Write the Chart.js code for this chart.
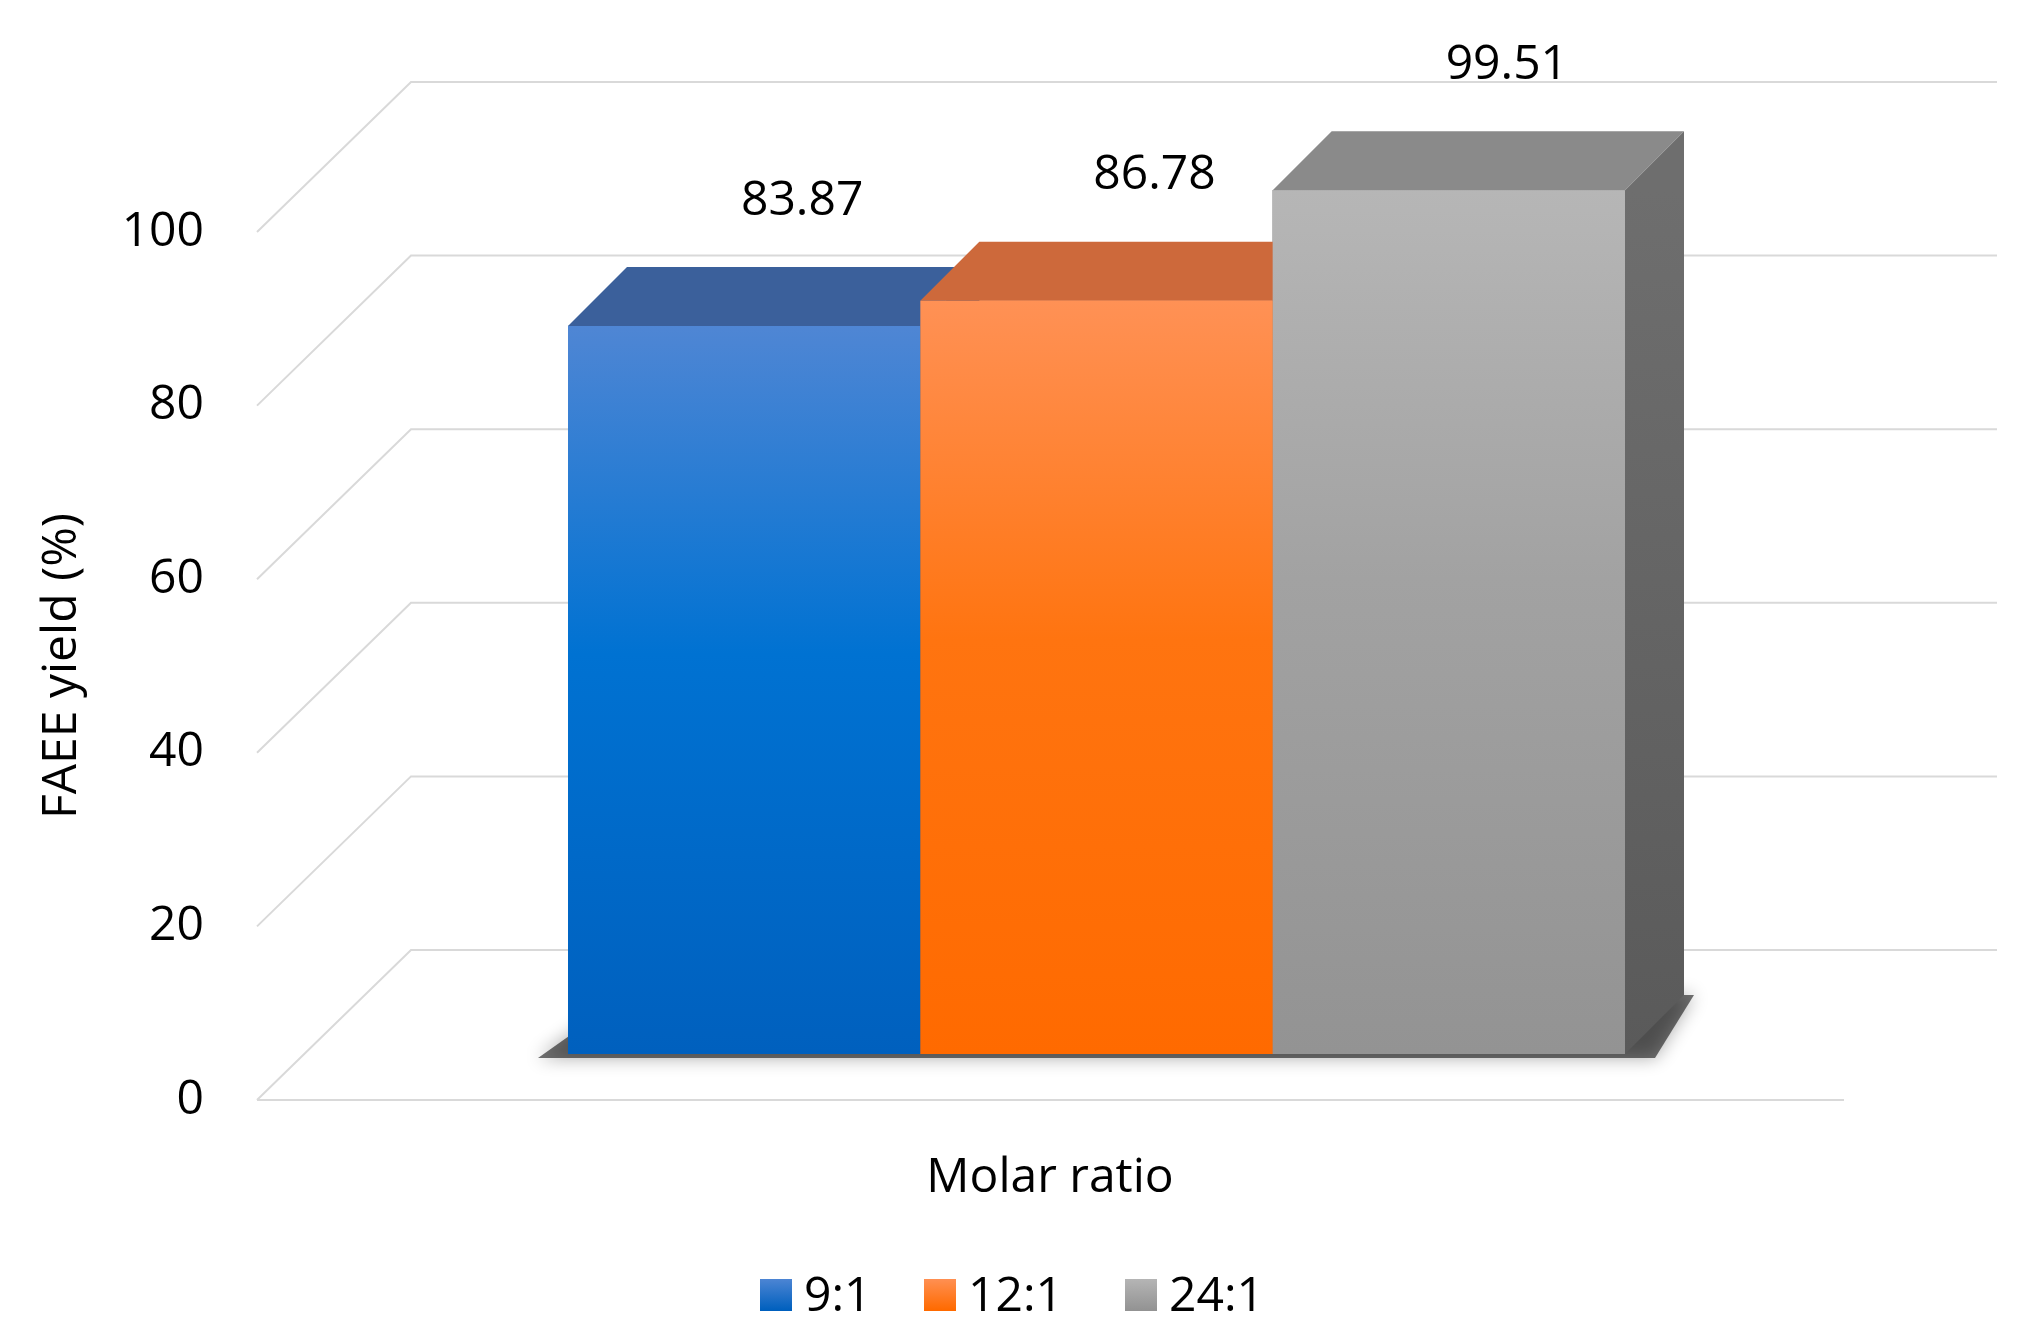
<!DOCTYPE html>
<html><head><meta charset="utf-8">
<script src="https://cdn.jsdelivr.net/npm/chart.js@4"></script>
<style>html,body{margin:0;background:#fff}#c{display:block}</style>
</head><body>
<div style="width:2036px;height:1342px"><canvas id="c"></canvas></div>
<script>
const categories = ['Molar ratio'];
const seriesNames = ['9:1', '12:1', '24:1'];
const seriesValues = [83.87, 86.78, 99.51];
const yTicks = [0, 20, 40, 60, 80, 100];

const FONT = '"Open Sans", "Noto Sans", sans-serif';
const front = [['#4f86d4', '#0072d2', '#0060be'], ['#ff9155', '#ff7410', '#ff6a00'], ['#b6b6b6', '#a2a2a2', '#939393']];
const topCol = ['#3b609b', '#cd693b', '#8a8a8a'];
const sideCol = ['#2c4c80', '#a8521f', '#646464'];
const D = 59;           // depth of bars
const FO = 46;          // front plane offset
const BO = 104;         // back wall offset

function grad(ctx, el, i) {
  const g = ctx.createLinearGradient(0, el.y, 0, el.base);
  g.addColorStop(0, front[i][0]);
  g.addColorStop(0.45, front[i][1]);
  g.addColorStop(1, front[i][2]);
  return g;
}

const threeD = {
  id: 'threeD',
  beforeDatasetsDraw(chart) {
    const ctx = chart.ctx, y = chart.scales.y;
    ctx.save();
    ctx.strokeStyle = '#d9d9d9';
    ctx.lineWidth = 2;
    yTicks.forEach(v => {
      const p = y.getPixelForValue(v);
      ctx.beginPath();
      ctx.moveTo(257, p + FO); ctx.lineTo(411, p - BO); ctx.lineTo(1997, p - BO);
      ctx.stroke();
    });
    const p0 = y.getPixelForValue(0);
    ctx.beginPath(); ctx.moveTo(257, p0 + FO); ctx.lineTo(1844, p0 + FO); ctx.stroke();
    // floor shadow
    const first = chart.getDatasetMeta(0).data[0], last = chart.getDatasetMeta(2).data[0];
    ctx.fillStyle = 'rgba(0,0,0,0.55)';
    ctx.shadowColor = 'rgba(0,0,0,0.6)'; ctx.shadowBlur = 18;
    const l = first.x - first.width / 2, r = last.x + last.width / 2;
    ctx.beginPath();
    ctx.moveTo(l - 30, p0 + 4); ctx.lineTo(r + 30, p0 + 4); ctx.lineTo(r + D + 10, p0 - D); ctx.lineTo(l + D, p0 - D);
    ctx.closePath(); ctx.fill();
    ctx.restore();
    // tick labels
    ctx.save();
    ctx.fillStyle = '#000'; ctx.font = '48px ' + FONT;
    ctx.textAlign = 'right'; ctx.textBaseline = 'middle';
    yTicks.forEach(v => ctx.fillText(String(v), 204, y.getPixelForValue(v) + FO));
    ctx.restore();
  },
  afterDatasetsDraw(chart) {
    const ctx = chart.ctx;
    ctx.save();
    chart.data.datasets.forEach((ds, i) => {
      const el = chart.getDatasetMeta(i).data[0];
      const l = el.x - el.width / 2, r = el.x + el.width / 2, t = el.y, b = el.base;
      ctx.fillStyle = topCol[i];
      ctx.beginPath(); ctx.moveTo(l, t); ctx.lineTo(l + D, t - D); ctx.lineTo(r + D, t - D); ctx.lineTo(r, t); ctx.closePath(); ctx.fill();
      const sg = ctx.createLinearGradient(0, t, 0, b);
      sg.addColorStop(0, i === 2 ? '#6e6e6e' : sideCol[i]); sg.addColorStop(1, i === 2 ? '#5a5a5a' : sideCol[i]);
      ctx.fillStyle = sg;
      ctx.beginPath(); ctx.moveTo(r, t); ctx.lineTo(r + D, t - D); ctx.lineTo(r + D, b - D); ctx.lineTo(r, b); ctx.closePath(); ctx.fill();
      ctx.fillStyle = grad(ctx, el, i);
      ctx.fillRect(l, t, r - l, b - t);
      ctx.fillStyle = '#000'; ctx.font = '48px ' + FONT;
      ctx.textAlign = 'center'; ctx.textBaseline = 'middle';
      ctx.fillText(ds.data[0].toFixed(2), el.x + 58, t - 125);
    });
    // axis titles
    ctx.font = '48px ' + FONT; ctx.fillStyle = '#000';
    ctx.textAlign = 'center'; ctx.textBaseline = 'middle';
    ctx.fillText(categories[0], 1050, 1178);
    ctx.save(); ctx.translate(62, 666); ctx.rotate(-Math.PI / 2); ctx.fillText('FAEE yield (%)', 0, 0); ctx.restore();
    // legend
    const lx = [760, 924, 1125];
    ctx.textAlign = 'left';
    seriesNames.forEach((n, i) => {
      const g = ctx.createLinearGradient(0, 1278, 0, 1310);
      g.addColorStop(0, front[i][0]); g.addColorStop(1, front[i][2]);
      ctx.fillStyle = g; ctx.fillRect(lx[i], 1279, 32, 32);
      ctx.fillStyle = '#000'; ctx.fillText(n, lx[i] + 44, 1297);
    });
    ctx.restore();
  }
};

new Chart(document.getElementById('c'), {
  type: 'bar',
  data: {
    labels: categories,
    datasets: seriesNames.map((n, i) => ({
      label: n,
      data: [seriesValues[i]],
      backgroundColor: front[i][1],
      categoryPercentage: 1,
      barPercentage: 1
    }))
  },
  options: {
    responsive: true,
    maintainAspectRatio: false,
    animation: false,
    layout: { padding: { left: 568, right: 411, top: 186, bottom: 288 } },
    plugins: { legend: { display: false }, tooltip: { enabled: false } },
    scales: {
      x: { display: false },
      y: { display: false, min: 0, max: 100 }
    }
  },
  plugins: [threeD]
});
</script>
</body></html>
